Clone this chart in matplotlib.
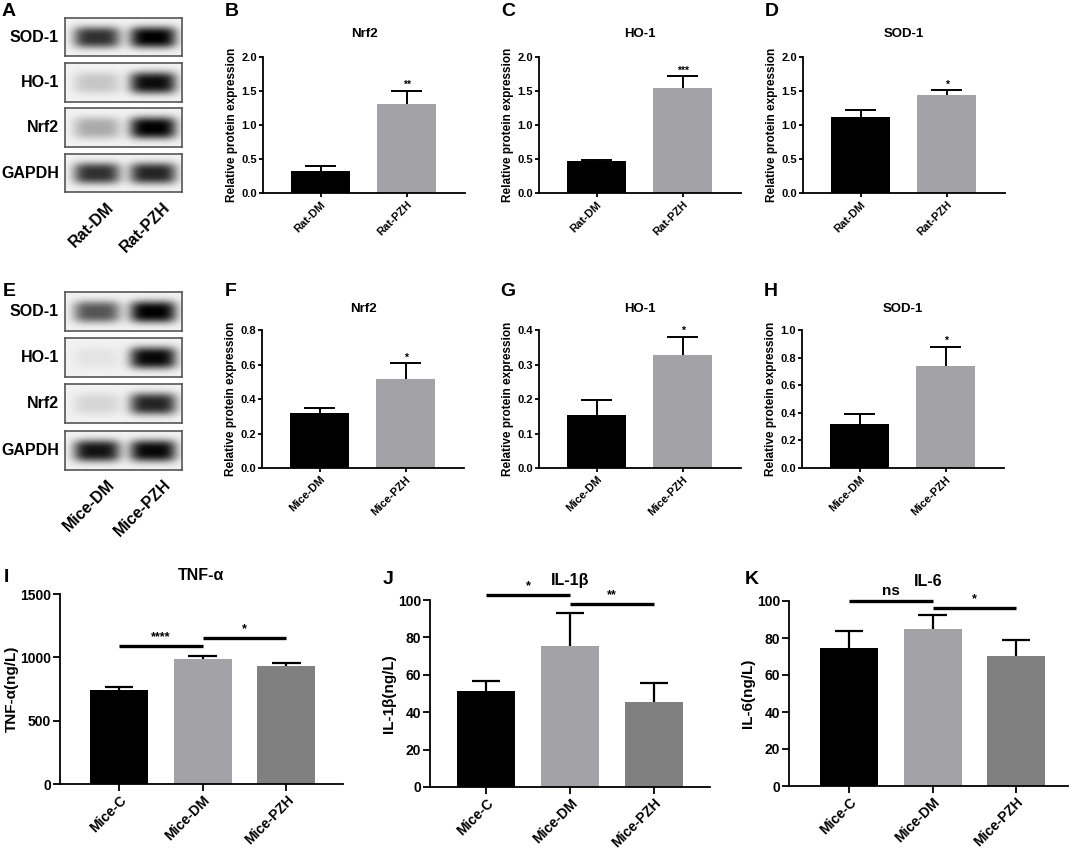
import numpy as np
import matplotlib
matplotlib.use("Agg")
import matplotlib.pyplot as plt

plt.rcParams['font.family'] = ['Liberation Sans', 'DejaVu Sans']
plt.rcParams['font.weight'] = 'bold'
plt.rcParams['axes.labelweight'] = 'bold'

# ---------------- data ----------------
rat_groups = ["Rat-DM", "Rat-PZH"]
mice2_groups = ["Mice-DM", "Mice-PZH"]
mice3_groups = ["Mice-C", "Mice-DM", "Mice-PZH"]
blot_proteins = ["SOD-1", "HO-1", "Nrf2", "GAPDH"]

# western blot band darkness (lane 1, lane 2)
rat_blot_sod1 = [0.80, 1.00]
rat_blot_ho1 = [0.18, 0.95]
rat_blot_nrf2 = [0.30, 1.00]
rat_blot_gapdh = [0.80, 0.85]
mice_blot_sod1 = [0.65, 1.00]
mice_blot_ho1 = [0.06, 0.97]
mice_blot_nrf2 = [0.12, 0.85]
mice_blot_gapdh = [0.92, 0.97]

rat_nrf2_mean = [0.33, 1.31]
rat_nrf2_upper = [0.39, 1.50]
rat_ho1_mean = [0.47, 1.55]
rat_ho1_upper = [0.48, 1.72]
rat_sod1_mean = [1.12, 1.44]
rat_sod1_upper = [1.22, 1.51]
rat_sig = ["**", "***", "*"]

mice_nrf2_mean = [0.32, 0.515]
mice_nrf2_upper = [0.35, 0.607]
mice_ho1_mean = [0.155, 0.327]
mice_ho1_upper = [0.197, 0.381]
mice_sod1_mean = [0.32, 0.738]
mice_sod1_upper = [0.393, 0.879]
mice_sig = ["*", "*", "*"]

tnf_mean = [742, 984, 934]
tnf_upper = [763, 1011, 953]
il1b_mean = [51.3, 75.4, 45.5]
il1b_upper = [56.8, 92.9, 55.4]
il6_mean = [74.8, 85.1, 70.5]
il6_upper = [84.0, 92.6, 79.0]

tnf_comparisons = [(0, 1, "****", 1092), (1, 2, "*", 1153)]
il1b_comparisons = [(0, 1, "*", 102.7), (1, 2, "**", 97.9)]
il6_comparisons = [(0, 1, "ns", 100.0), (1, 2, "*", 96.0)]

# ---------------- figure ----------------
W, H = 1072, 849
fig = plt.figure(figsize=(W / 100, H / 100), dpi=100)

BLACK = "#000000"
LGRAY = "#a2a2a7"
DGRAY = "#808080"


def px_axes(x0, y0, x1, y1):
    return fig.add_axes([x0 / W, 1 - y1 / H, (x1 - x0) / W, (y1 - y0) / H])


def ftext(x, y, s, **kw):
    fig.text(x / W, 1 - y / H, s, **kw)


def letter(x, y, s):
    ftext(x, y, s, fontsize=14, fontweight='bold', ha='center', va='center')


def band_image(dark):
    ny, nx = 60, 160
    yy, xx = np.mgrid[0:ny, 0:nx]
    img = np.zeros((ny, nx))
    centers = [0.27, 0.75]
    for c, d in zip(centers, dark):
        gx = np.exp(-np.abs((xx / nx - c) / 0.20) ** 4)
        gy = np.exp(-np.abs((yy / ny - 0.5) / 0.28) ** 3)
        img += d * gx * gy
    img = np.clip(img, 0, 1)
    return 0.95 - 0.95 * img


def blot_panel(boxes, darks, groups, label_y):
    for (x0, y0, x1, y1), name, dark in zip(boxes, blot_proteins, darks):
        ax = px_axes(x0, y0, x1, y1)
        ax.imshow(band_image(dark), cmap='gray', vmin=0, vmax=1,
                  aspect='auto', interpolation='bilinear')
        ax.set_xticks([])
        ax.set_yticks([])
        for sp in ax.spines.values():
            sp.set_color('#555555')
            sp.set_linewidth(1.2)
        ftext(x0 - 6, (y0 + y1) / 2, name, fontsize=11.5,
              fontweight='bold', ha='right', va='center')
    bx0, bx1 = boxes[0][0], boxes[0][2]
    for c, g in zip([0.27, 0.75], groups):
        xa = bx0 + c * (bx1 - bx0) + 10
        ftext(xa, label_y, g, fontsize=11.5, fontweight='bold',
              rotation=45, ha='right', va='top', rotation_mode='anchor')


def style_axes(ax, tick_fs, ticklen):
    ax.spines['top'].set_visible(False)
    ax.spines['right'].set_visible(False)
    for sp in ('left', 'bottom'):
        ax.spines[sp].set_linewidth(1.3)
    ax.tick_params(axis='both', direction='out', length=ticklen, width=1.3,
                   labelsize=tick_fs, pad=1.5)
    for lab in ax.get_yticklabels():
        lab.set_fontweight('bold')


def upper_errbars(ax, xs, mean, upper, half, lw):
    ax.vlines(xs, mean, upper, colors='black', lw=lw, zorder=1)
    ax.hlines(upper, np.asarray(xs) - half, np.asarray(xs) + half,
              colors='black', lw=lw, zorder=1)


def two_bar(x0, y_top, y_bot, title_y, groups, mean, upper, sig, title,
            yticks, fmt):
    ax = px_axes(x0, y_top, x0 + 202, y_bot)
    xs = np.arange(len(groups))
    ax.bar(xs, mean, width=0.686, color=[BLACK, LGRAY], zorder=2)
    upper_errbars(ax, xs, mean, upper, 0.18, 1.4)
    ax.annotate(sig, (xs[1], upper[1]), xytext=(0, 0.5),
                textcoords='offset points', ha='center', va='bottom',
                fontsize=7.5, fontweight='bold')
    ax.set_xlim(-0.669, 1.68)
    ax.set_ylim(yticks[0], yticks[-1])
    ax.set_yticks(yticks)
    ax.set_yticklabels([fmt.format(v) for v in yticks])
    ax.set_xticks(xs)
    ax.set_xticklabels(groups, rotation=45, ha='right',
                       rotation_mode='anchor', fontsize=7, fontweight='bold')
    ax.set_ylabel("Relative protein expression", fontsize=8.5,
                  fontweight='bold', labelpad=2)
    ftext(x0 + 101, title_y, title, fontsize=9.5, fontweight='bold',
          ha='center', va='center')
    style_axes(ax, 8, 3)
    return ax


def three_bar(x0, x1, y_top, y_bot, mean, upper, comps, title, yticks,
              ylabel, xlim, title_y):
    ax = px_axes(x0, y_top, x1, y_bot)
    xs = np.arange(len(mice3_groups))
    ax.bar(xs, mean, width=0.695, color=[BLACK, LGRAY, DGRAY], zorder=2)
    upper_errbars(ax, xs, mean, upper, 0.17, 1.6)
    for i, j, s, yv in comps:
        ax.plot([xs[i], xs[j]], [yv, yv], color='black', lw=2.4,
                solid_capstyle='butt', clip_on=False)
        ax.annotate(s, ((xs[i] + xs[j]) / 2, yv), xytext=(0, 2),
                    textcoords='offset points', ha='center', va='bottom',
                    fontsize=9 if s != 'ns' else 11, fontweight='bold',
                    annotation_clip=False)
    ax.set_xlim(*xlim)
    ax.set_ylim(yticks[0], yticks[-1])
    ax.set_yticks(yticks)
    ax.set_yticklabels([str(v) for v in yticks])
    ax.set_xticks(xs)
    ax.set_xticklabels(mice3_groups, rotation=45, ha='right',
                       rotation_mode='anchor', fontsize=8.8, fontweight='bold')
    ax.set_ylabel(ylabel, fontsize=11, fontweight='bold', labelpad=1)
    style_axes(ax, 10, 5)
    ftext((x0 + x1) / 2, title_y, title, fontsize=11.5, fontweight='bold',
          ha='center', va='center')
    return ax


# ---------- Row 1 ----------
letter(9, 12, "A")
blot_panel([(65, 18, 182, 56), (65, 63, 182, 102), (65, 108, 182, 147),
            (65, 154, 182, 192)],
           [rat_blot_sod1, rat_blot_ho1, rat_blot_nrf2, rat_blot_gapdh],
           rat_groups, 200)

row1_top, row1_bot = 57, 193
letter(232, 11, "B")
letter(508, 11, "C")
letter(772, 11, "D")
t1 = [0.0, 0.5, 1.0, 1.5, 2.0]
two_bar(263, row1_top, row1_bot, 34, rat_groups, rat_nrf2_mean,
        rat_nrf2_upper, rat_sig[0], "Nrf2", t1, "{:.1f}")
two_bar(539, row1_top, row1_bot, 34, rat_groups, rat_ho1_mean,
        rat_ho1_upper, rat_sig[1], "HO-1", t1, "{:.1f}")
two_bar(803, row1_top, row1_bot, 34, rat_groups, rat_sod1_mean,
        rat_sod1_upper, rat_sig[2], "SOD-1", t1, "{:.1f}")

# ---------- Row 2 ----------
letter(9, 292, "E")
blot_panel([(65, 292, 182, 331), (65, 338, 182, 377), (65, 384, 182, 423),
            (65, 431, 182, 470)],
           [mice_blot_sod1, mice_blot_ho1, mice_blot_nrf2, mice_blot_gapdh],
           mice2_groups, 477)

row2_top, row2_bot = 330, 468
letter(231, 292, "F")
letter(508, 292, "G")
letter(771, 292, "H")
two_bar(262, row2_top, row2_bot, 309, mice2_groups, mice_nrf2_mean,
        mice_nrf2_upper, mice_sig[0], "Nrf2", [0.0, 0.2, 0.4, 0.6, 0.8],
        "{:.1f}")
two_bar(539, row2_top, row2_bot, 309, mice2_groups, mice_ho1_mean,
        mice_ho1_upper, mice_sig[1], "HO-1", [0.0, 0.1, 0.2, 0.3, 0.4],
        "{:.1f}")
two_bar(802, row2_top, row2_bot, 309, mice2_groups, mice_sod1_mean,
        mice_sod1_upper, mice_sig[2], "SOD-1",
        [0.0, 0.2, 0.4, 0.6, 0.8, 1.0], "{:.1f}")

# ---------- Row 3 ----------
letter(6, 577, "I")
letter(388, 579, "J")
letter(752, 579, "K")
three_bar(60, 343, 594, 784, tnf_mean, tnf_upper, tnf_comparisons,
          "TNF-α", [0, 500, 1000, 1500], "TNF-α(ng/L)",
          (-0.707, 2.678), 576)
three_bar(430, 710, 600, 787, il1b_mean, il1b_upper, il1b_comparisons,
          "IL-1β", [0, 20, 40, 60, 80, 100], "IL-1β(ng/L)",
          (-0.667, 2.667), 581)
three_bar(789, 1068, 601, 786, il6_mean, il6_upper, il6_comparisons,
          "IL-6", [0, 20, 40, 60, 80, 100], "IL-6(ng/L)",
          (-0.72, 2.62), 581)

fig.savefig("out.png", dpi=100)
